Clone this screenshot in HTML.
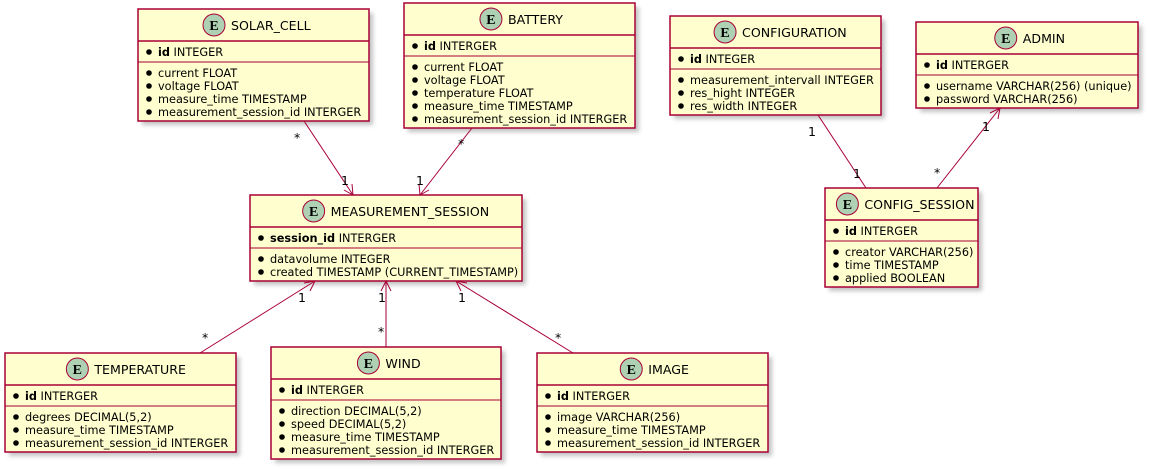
<!DOCTYPE html>
<html><head><meta charset="utf-8"><style>
html,body{margin:0;padding:0;background:#fff;width:1152px;height:470px;overflow:hidden}
svg{display:block}
text{font-family:"DejaVu Sans","Liberation Sans",sans-serif;font-size:11.3px;fill:#000}
.t{font-size:12.6px}
.lbl text{font-size:12.5px}
</style></head><body>
<svg width="1152" height="470" viewBox="0 0 1152 470" xmlns="http://www.w3.org/2000/svg">
<defs><filter id="sh" x="-10%" y="-10%" width="130%" height="130%"><feGaussianBlur stdDeviation="2"/></filter></defs>
<g id="ents"></g>
<g stroke="#A80036" stroke-width="1" fill="none">
<line x1="304" y1="121" x2="353" y2="195"/><polyline points="344,190 353,195 352,184"/>
<line x1="472" y1="128" x2="420" y2="195"/><polyline points="419,184 420,195 429,190"/>
<line x1="200" y1="353" x2="315" y2="281"/><polyline points="304,283 315,281 310,291"/>
<line x1="386" y1="347" x2="386" y2="281"/><polyline points="381,291 386,281 391,291"/>
<line x1="573" y1="353" x2="456" y2="281"/><polyline points="461,291 456,281 467,283"/>
<line x1="818" y1="115" x2="866" y2="188"/>
<line x1="937" y1="188" x2="1000" y2="108"/><polyline points="990,113 1000,108 998,119"/>
</g>
<g class="lbl">
<text x="294" y="142">*</text><text x="341" y="185">1</text>
<text x="458" y="148">*</text><text x="416" y="185">1</text>
<text x="298" y="302">1</text><text x="202" y="342">*</text>
<text x="378" y="302">1</text><text x="378" y="336">*</text>
<text x="458" y="302">1</text><text x="555" y="342">*</text>
<text x="808" y="136">1</text><text x="853" y="178">1</text>
<text x="934" y="177">*</text><text x="982" y="131">1</text>
</g>
</svg>
<script>
const E=[
[138,9,231,"SOLAR_CELL",["id","INTEGER"],["current FLOAT","voltage FLOAT","measure_time TIMESTAMP","measurement_session_id INTERGER"]],
[404,3,231,"BATTERY",["id","INTERGER"],["current FLOAT","voltage FLOAT","temperature FLOAT","measure_time TIMESTAMP","measurement_session_id INTERGER"]],
[250,195,272,"MEASUREMENT_SESSION",["session_id","INTERGER"],["datavolume INTEGER","created TIMESTAMP (CURRENT_TIMESTAMP)"]],
[5,353,231,"TEMPERATURE",["id","INTERGER"],["degrees DECIMAL(5,2)","measure_time TIMESTAMP","measurement_session_id INTERGER"]],
[271,347,230,"WIND",["id","INTERGER"],["direction DECIMAL(5,2)","speed DECIMAL(5,2)","measure_time TIMESTAMP","measurement_session_id INTERGER"]],
[537,353,231,"IMAGE",["id","INTERGER"],["image VARCHAR(256)","measure_time TIMESTAMP","measurement_session_id INTERGER"]],
[670,16,211,"CONFIGURATION",["id","INTEGER"],["measurement_intervall INTEGER","res_hight INTEGER","res_width INTEGER"]],
[916,22,222,"ADMIN",["id","INTERGER"],["username VARCHAR(256) (unique)","password VARCHAR(256)"]],
[825,188,153,"CONFIG_SESSION",["id","INTERGER"],["creator VARCHAR(256)","time TIMESTAMP","applied BOOLEAN"]]
];
let s="";
for(const [x,y,w,t,id,at] of E){
 const h=60+13*at.length;
 s+=`<rect x="${x+4}" y="${y+4}" width="${w}" height="${h}" fill="#888" opacity="0.5" filter="url(#sh)"/>`;
 s+=`<rect x="${x}" y="${y}" width="${w}" height="${h}" fill="#FEFECE" stroke="#A80036" stroke-width="1.5"/>`;
 const tw=t.length*7.3, cx=x+w/2, cc=cx-(28+tw)/2+11;
 s+=`<circle cx="${cc}" cy="${y+16}" r="11" fill="#ADD1B2" stroke="#A80036" stroke-width="1"/>`;
 s+=`<text x="${cc}" y="${y+21}" text-anchor="middle" style="font-family:'Liberation Serif',serif;font-weight:bold;font-size:14px">E</text>`;
 s+=`<text class="t" x="${cc+17}" y="${y+21}">${t}</text>`;
 s+=`<line x1="${x}" y1="${y+32}" x2="${x+w}" y2="${y+32}" stroke="#A80036" stroke-width="1.5"/>`;
 s+=`<circle cx="${x+11}" cy="${y+43}" r="2.8" fill="#000"/>`;
 s+=`<text x="${x+20}" y="${y+47}"><tspan style="font-weight:bold">${id[0]}</tspan> ${id[1]}</text>`;
 s+=`<line x1="${x}" y1="${y+53}" x2="${x+w}" y2="${y+53}" stroke="#A80036" stroke-width="1"/>`;
 at.forEach((a,i)=>{const yy=y+68+13*i;
  s+=`<circle cx="${x+11}" cy="${yy-4}" r="2.8" fill="#000"/><text x="${x+20}" y="${yy}">${a}</text>`;});
}
document.getElementById("ents").innerHTML=s;
</script>
</body></html>
